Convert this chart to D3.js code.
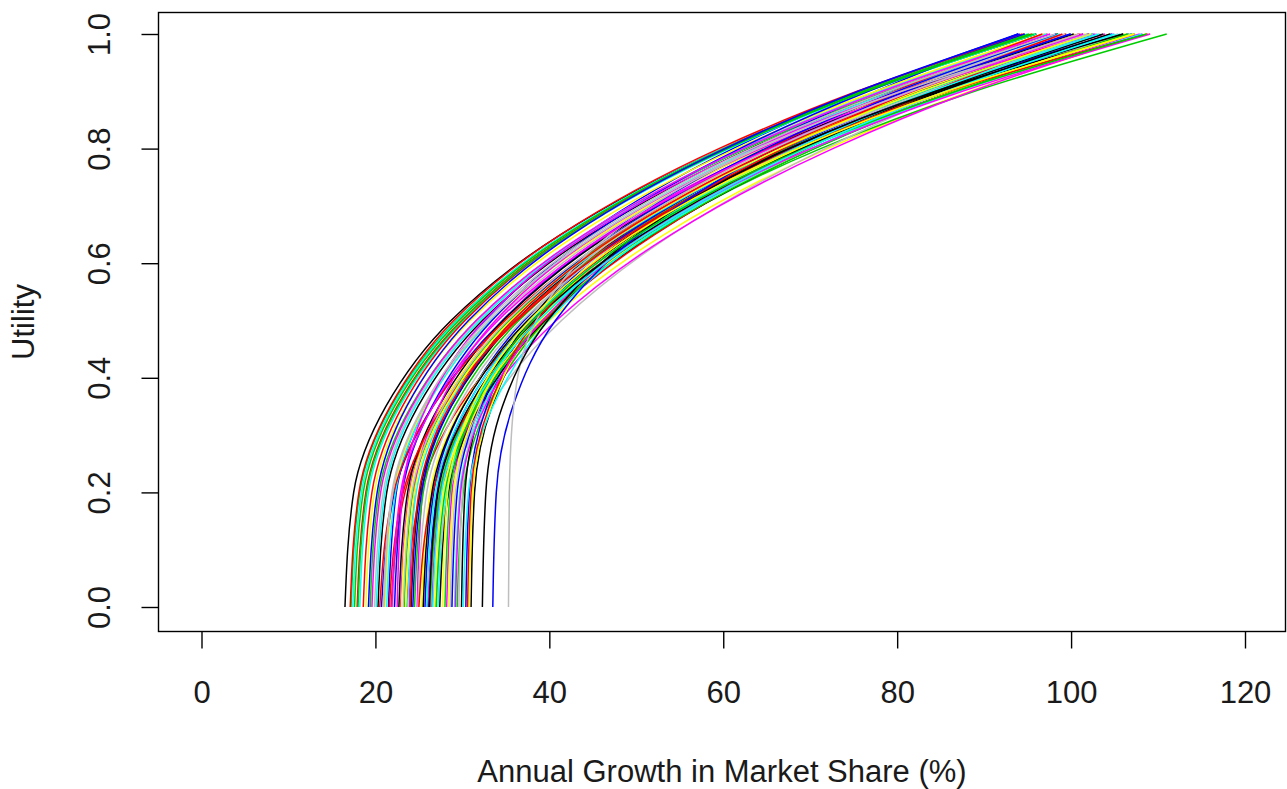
<!DOCTYPE html>
<html>
<head>
<meta charset="utf-8">
<script src="https://cdn.jsdelivr.net/npm/d3@7"></script>
<style>
  html, body { margin: 0; padding: 0; background: #ffffff; }
  svg text { font-family: "Liberation Sans", Arial, Helvetica, sans-serif; fill: #1a1a1a; }
</style>
</head>
<body>
<svg id="chart" width="1287" height="789"></svg>
<script>
// Utility levels at which each simulated curve is tabulated
const utilityLevels = [0, 0.2, 0.35, 0.5, 0.65, 0.8, 0.9, 1];

// Annual growth in market share (%) reached at each utility level, one row per simulated curve
const growthCurves = [
  [16.5, 17.5, 21.2, 28.7, 41.3, 60.0, 76.3, 96.0],
  [17.9, 18.9, 22.5, 29.9, 42.2, 60.4, 76.3, 95.5],
  [17.2, 18.2, 21.8, 29.3, 41.8, 60.3, 76.5, 96.0],
  [21.5, 22.4, 25.8, 32.6, 44.1, 61.1, 75.9, 93.9],
  [18.2, 19.2, 22.8, 30.2, 42.5, 60.7, 76.6, 95.9],
  [24.8, 25.4, 28.2, 34.7, 46.5, 65.3, 82.5, 103.9],
  [25.4, 26.9, 31.4, 40.0, 53.2, 72.0, 88.4, 108.6],
  [22.0, 23.0, 26.6, 33.9, 46.2, 64.4, 80.3, 99.5],
  [20.3, 21.3, 24.9, 32.3, 44.7, 63.1, 79.1, 98.5],
  [23.6, 25.2, 29.7, 38.0, 50.6, 68.0, 82.5, 99.4],
  [19.4, 20.4, 24.1, 31.6, 44.1, 62.6, 78.8, 98.4],
  [25.7, 26.7, 30.1, 37.1, 48.9, 66.3, 81.5, 99.9],
  [17.4, 18.4, 22.0, 29.4, 41.7, 59.9, 75.8, 95.0],
  [26.5, 27.5, 31.1, 38.6, 51.0, 69.4, 85.5, 104.9],
  [21.1, 22.1, 25.8, 33.3, 45.9, 64.5, 80.7, 100.4],
  [28.6, 29.2, 31.9, 38.2, 49.7, 67.9, 84.6, 105.4],
  [24.1, 25.1, 28.7, 36.1, 48.4, 66.7, 82.7, 102.0],
  [18.6, 19.6, 23.1, 30.3, 42.3, 60.1, 75.6, 94.4],
  [29.4, 30.1, 32.9, 39.6, 51.8, 71.2, 88.9, 111.0],
  [20.7, 22.2, 26.6, 34.6, 46.7, 63.6, 77.6, 93.9],
  [27.2, 28.2, 31.8, 39.3, 51.7, 70.1, 86.2, 105.7],
  [22.9, 23.9, 27.6, 35.2, 47.8, 66.5, 82.8, 102.6],
  [25.3, 26.3, 30.0, 37.5, 50.1, 68.6, 84.9, 104.5],
  [19.9, 20.9, 24.4, 31.8, 44.0, 62.1, 77.9, 97.0],
  [29.9, 30.3, 32.3, 37.7, 48.5, 66.8, 84.4, 107.0],
  [21.8, 23.4, 27.9, 36.1, 48.7, 66.0, 80.4, 97.3],
  [23.3, 24.3, 27.9, 35.4, 47.9, 66.4, 82.6, 102.1],
  [26.1, 27.1, 30.5, 37.7, 49.6, 67.3, 82.7, 101.4],
  [20.1, 21.1, 24.6, 32.0, 44.2, 62.3, 78.1, 97.2],
  [28.2, 28.8, 31.6, 38.2, 50.1, 69.0, 86.3, 107.9],
  [23.0, 24.0, 27.6, 35.1, 47.6, 66.1, 82.2, 101.7],
  [26.9, 28.5, 33.1, 41.4, 54.1, 71.7, 86.3, 103.4],
  [22.7, 23.7, 27.3, 34.7, 47.0, 65.2, 81.1, 100.3],
  [17.1, 18.1, 21.7, 29.0, 41.3, 59.5, 75.4, 94.6],
  [24.5, 25.5, 29.1, 36.5, 48.9, 67.2, 83.2, 102.5],
  [30.4, 30.8, 32.8, 38.1, 48.8, 66.9, 84.2, 106.6],
  [21.3, 22.3, 25.9, 33.2, 45.5, 63.6, 79.5, 98.7],
  [26.0, 27.5, 32.2, 40.8, 54.0, 72.6, 88.6, 108.2],
  [18.9, 19.9, 23.5, 30.9, 43.2, 61.5, 77.5, 96.8],
  [24.9, 25.9, 29.5, 36.9, 49.3, 67.6, 83.6, 103.0],
  [31.0, 31.4, 33.4, 38.7, 49.4, 67.5, 84.9, 107.3],
  [20.5, 22.1, 26.6, 34.9, 47.6, 65.1, 79.7, 96.7],
  [26.3, 27.4, 31.0, 38.7, 51.4, 70.3, 86.8, 106.7],
  [22.2, 23.1, 26.5, 33.4, 44.9, 61.9, 76.7, 94.7],
  [29.1, 29.7, 32.4, 38.8, 50.5, 69.0, 85.9, 107.0],
  [23.9, 24.5, 27.3, 33.8, 45.6, 64.3, 81.4, 102.8],
  [30.8, 31.2, 33.3, 38.8, 49.7, 68.3, 86.1, 109.1],
  [21.0, 22.0, 25.6, 33.1, 45.5, 63.8, 79.9, 99.3],
  [27.4, 28.4, 32.0, 39.5, 52.0, 70.4, 86.5, 106.0],
  [25.0, 26.6, 31.1, 39.4, 52.1, 69.6, 84.1, 101.1],
  [18.0, 19.0, 22.6, 30.0, 42.3, 60.5, 76.4, 95.7],
  [28.8, 29.4, 32.1, 38.3, 49.6, 67.7, 84.1, 104.7],
  [23.7, 24.7, 28.3, 35.8, 48.3, 66.8, 83.0, 102.5],
  [19.6, 20.6, 24.2, 31.6, 44.0, 62.3, 78.3, 97.6],
  [26.8, 27.8, 31.5, 39.0, 51.6, 70.3, 86.6, 106.3],
  [29.6, 30.0, 32.0, 37.4, 48.2, 66.5, 84.0, 106.6],
  [25.5, 26.5, 30.1, 37.5, 49.9, 68.3, 84.3, 103.7],
  [21.6, 23.2, 27.8, 36.3, 49.1, 66.9, 81.7, 99.0],
  [27.0, 28.0, 31.7, 39.2, 51.8, 70.5, 86.8, 106.5],
  [24.3, 25.3, 28.7, 35.7, 47.4, 64.8, 80.0, 98.3],
  [30.1, 30.7, 33.5, 39.9, 51.6, 70.1, 87.0, 108.2],
  [22.5, 23.1, 25.9, 32.5, 44.4, 63.3, 80.5, 102.1],
  [28.4, 29.0, 31.8, 38.3, 50.0, 68.8, 85.9, 107.2],
  [20.9, 21.9, 25.5, 32.8, 45.1, 63.2, 79.0, 98.2],
  [26.2, 27.2, 30.8, 38.3, 50.7, 69.0, 85.1, 104.5],
  [30.6, 31.0, 33.1, 38.5, 49.5, 68.1, 85.8, 108.8],
  [17.6, 18.6, 22.2, 29.6, 41.9, 60.1, 76.0, 95.2],
  [33.5, 33.9, 35.8, 40.7, 50.3, 66.1, 81.0, 100.0],
  [25.9, 26.9, 30.5, 37.8, 50.1, 68.2, 84.0, 103.2],
  [29.2, 29.8, 32.6, 39.2, 51.1, 70.1, 87.5, 109.1],
  [23.5, 24.5, 28.1, 35.6, 48.1, 66.6, 82.8, 102.3],
  [35.3, 35.4, 35.9, 38.5, 47.0, 64.0, 80.5, 102.0],
  [32.3, 32.7, 34.6, 39.8, 50.1, 67.6, 84.4, 106.0],
  [24.0, 25.0, 28.5, 35.8, 48.0, 66.1, 81.8, 100.9],
  [28.0, 28.6, 31.5, 38.1, 50.2, 69.3, 86.8, 108.7],
  [19.2, 20.2, 23.6, 30.7, 42.6, 60.2, 75.5, 94.1],
  [26.6, 27.6, 31.2, 38.7, 51.1, 69.5, 85.6, 105.0],
  [21.9, 22.9, 26.6, 34.1, 46.7, 65.4, 81.7, 101.4],
  [27.7, 28.3, 31.1, 37.7, 49.6, 68.5, 85.7, 107.3],
  [23.2, 24.2, 27.8, 35.2, 47.5, 65.7, 81.6, 100.9]
];

// Line colours, recycled in order across the curves
const lineColors = ["#000000", "#FF0000", "#00CD00", "#0000FF", "#00FFFF", "#FF00FF", "#FFFF00", "#BEBEBE"];

const xTickValues = [0, 20, 40, 60, 80, 100, 120];
const yTickValues = [0, 0.2, 0.4, 0.6, 0.8, 1.0];
const xTitle = "Annual Growth in Market Share (%)";
const yTitle = "Utility";

const W = 1287, H = 789;
const box = { left: 158.5, right: 1285.5, top: 12.5, bottom: 631.5 };
const fontSize = 31;

const svg = d3.select("#chart");
svg.append("rect").attr("width", W).attr("height", H).attr("fill", "#ffffff");

const x = d3.scaleLinear().domain([0, 120]).range([201.5, 1245]);
const y = d3.scaleLinear().domain([0, 1]).range([607, 34]);

svg.append("clipPath").attr("id", "plot-clip")
  .append("rect")
  .attr("x", box.left).attr("y", box.top)
  .attr("width", box.right - box.left).attr("height", box.bottom - box.top);

// Each curve is traced from utility 1 down to 0 so the spline runs monotonically in y
const line = d3.line()
  .x(d => x(d[0]))
  .y(d => y(d[1]))
  .curve(d3.curveMonotoneY);

const curvesG = svg.append("g").attr("clip-path", "url(#plot-clip)");
growthCurves.forEach((row, i) => {
  const pts = row.map((v, k) => [v, utilityLevels[k]]).reverse();
  curvesG.append("path")
    .attr("d", line(pts))
    .attr("fill", "none")
    .attr("stroke", lineColors[i % lineColors.length])
    .attr("stroke-width", 1.5);
});

// Plot frame
svg.append("rect")
  .attr("x", box.left).attr("y", box.top)
  .attr("width", box.right - box.left).attr("height", box.bottom - box.top)
  .attr("fill", "none").attr("stroke", "#000").attr("stroke-width", 1.4);

// Bottom axis
const xAxis = d3.axisBottom(x).tickValues(xTickValues).tickSize(17).tickPadding(32).tickFormat(d3.format("d"));
const gx = svg.append("g").attr("transform", `translate(0,${box.bottom})`).call(xAxis);
gx.select(".domain").remove();
gx.selectAll(".tick line").attr("stroke", "#000").attr("stroke-width", 1.4);
gx.selectAll(".tick text").attr("font-size", fontSize).attr("fill", "#1a1a1a");

// Left axis, labels rotated parallel to the axis
const yAxis = d3.axisLeft(y).tickValues(yTickValues).tickSize(17).tickFormat(d3.format(".1f"));
const gy = svg.append("g").attr("transform", `translate(${box.left},0)`).call(yAxis);
gy.select(".domain").remove();
gy.selectAll(".tick line").attr("stroke", "#000").attr("stroke-width", 1.4);
gy.selectAll(".tick text")
  .attr("x", null).attr("dy", null)
  .attr("transform", `translate(${110 - box.left},0) rotate(-90)`)
  .attr("text-anchor", "middle")
  .attr("font-size", fontSize)
  .attr("fill", "#1a1a1a");

// Axis titles
svg.append("text")
  .attr("x", (box.left + box.right) / 2)
  .attr("y", 782)
  .attr("text-anchor", "middle")
  .attr("font-size", fontSize)
  .text(xTitle);

svg.append("text")
  .attr("transform", `translate(34,${(box.top + box.bottom) / 2}) rotate(-90)`)
  .attr("text-anchor", "middle")
  .attr("font-size", fontSize)
  .text(yTitle);
</script>
</body>
</html>
